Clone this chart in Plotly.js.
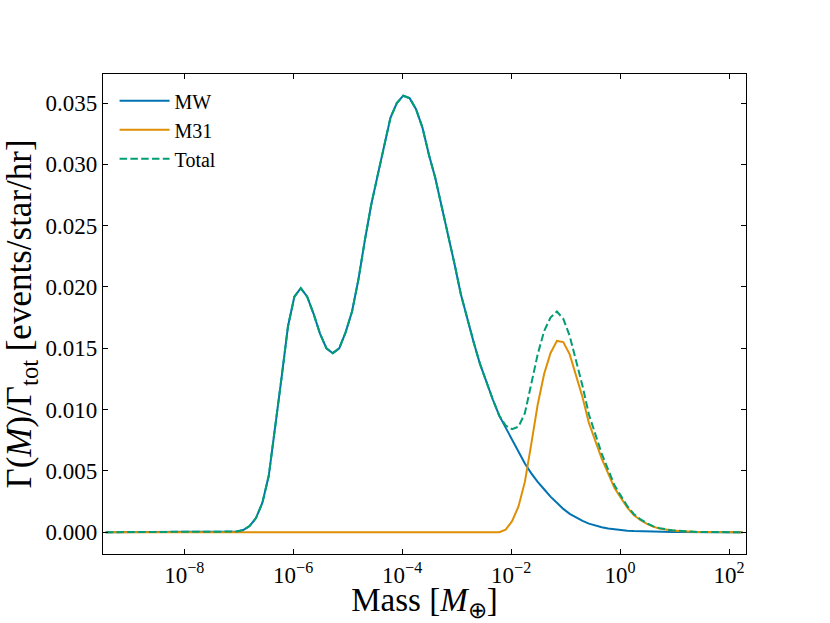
<!DOCTYPE html>
<html>
<head>
<meta charset="utf-8">
<script src="https://cdn.plot.ly/plotly-3.0.1.min.js"></script>
<style>
  html, body { margin: 0; padding: 0; background: #fff; }
  #plot { width: 830px; height: 623px; }
</style>
</head>
<body>
<div id="plot"></div>
<script>
// log10 of mass in Earth masses (sample grid)
var logMass = [
  -9.440, -9.385, -9.268, -9.150, -9.033,
  -8.915, -8.798, -8.680, -8.563, -8.445, -8.328, -8.210, -8.093, -7.975, -7.858,
  -7.740, -7.623, -7.505, -7.388, -7.270, -7.153, -7.035, -6.918, -6.800, -6.683,
  -6.565, -6.448, -6.330, -6.213, -6.095, -5.978, -5.860, -5.743, -5.625, -5.508,
  -5.390, -5.273, -5.155, -5.038, -4.920, -4.803, -4.685, -4.568, -4.450, -4.333,
  -4.215, -4.098, -3.980, -3.863, -3.745, -3.628, -3.510, -3.393, -3.275, -3.158,
  -3.040, -2.923, -2.805, -2.688, -2.570, -2.453, -2.335, -2.218, -2.100, -1.983,
  -1.865, -1.748, -1.630, -1.513, -1.395, -1.278, -1.160, -1.043, -0.925, -0.808,
  -0.690, -0.573, -0.455, -0.338, -0.220, -0.103, 0.015, 0.133, 0.250, 0.368,
  0.485, 0.603, 0.720, 0.838, 0.955, 1.073, 1.190, 1.308, 1.425, 1.543,
  1.660, 1.778, 1.895, 2.013, 2.130, 2.248
];

var mwRate = [
  0, 0, 0, 0, 0,
  0, 0, 0, 0, 0, 0, 0, 0, 0, 0,
  0, 0, 0, 0, 0, 0.00001, 0.00005, 0.00017, 0.0005, 0.00115,
  0.0024, 0.0046, 0.0085, 0.0126, 0.0168, 0.0192, 0.0199, 0.0192, 0.0178, 0.0162,
  0.0150, 0.0146, 0.0150, 0.0163, 0.0180, 0.0206, 0.0238, 0.0267, 0.0291, 0.0314,
  0.0338, 0.0350, 0.0356, 0.0354, 0.0345, 0.0330, 0.0308, 0.0289, 0.0266, 0.0242,
  0.0219, 0.0194, 0.0174, 0.0155, 0.0137, 0.0122, 0.0108, 0.0095, 0.0085, 0.0075,
  0.0065, 0.0056, 0.0048, 0.0041, 0.0035, 0.0029, 0.0024, 0.0019, 0.0015, 0.0012,
  0.00092, 0.0007, 0.00053, 0.0004, 0.0003, 0.00022, 0.00016, 0.00012, 0.00009, 0.00007,
  0.00005, 0.00004, 0.00003, 0.00002, 0.00001, 0.00001, 0, 0, 0, 0,
  0, 0, 0, 0, 0, 0
];

var m31Rate = [
  0, 0, 0, 0, 0,
  0, 0, 0, 0, 0, 0, 0, 0, 0, 0,
  0, 0, 0, 0, 0, 0, 0, 0, 0, 0,
  0, 0, 0, 0, 0, 0, 0, 0, 0, 0,
  0, 0, 0, 0, 0, 0, 0, 0, 0, 0,
  0, 0, 0, 0, 0, 0, 0, 0, 0, 0,
  0, 0, 0, 0, 0, 0, 0, 0, 0.0002, 0.0009,
  0.0021, 0.0041, 0.0072, 0.0104, 0.0129, 0.0146, 0.0156, 0.0155, 0.0145, 0.0128,
  0.0110, 0.0089, 0.0074, 0.0060, 0.0048, 0.0036, 0.0028, 0.0020, 0.0014, 0.0010,
  0.0007, 0.00045, 0.0003, 0.0002, 0.00014, 0.0001, 0.00006, 0.00004, 0.00002, 0.00001,
  0.00001, 0, 0, 0, 0, 0
];

var totalRate = [
  0, 0, 0, 0, 0,
  0, 0, 0, 0, 0, 0, 0, 0, 0, 0,
  0, 0, 0, 0, 0, 0.00001, 0.00005, 0.00017, 0.0005, 0.00115,
  0.0024, 0.0046, 0.0085, 0.0126, 0.0168, 0.0192, 0.0199, 0.0192, 0.0178, 0.0162,
  0.0150, 0.0146, 0.0150, 0.0163, 0.0180, 0.0206, 0.0238, 0.0267, 0.0291, 0.0314,
  0.0338, 0.0350, 0.0356, 0.0354, 0.0345, 0.0330, 0.0308, 0.0289, 0.0266, 0.0242,
  0.0219, 0.0194, 0.0174, 0.0155, 0.0137, 0.0122, 0.0108, 0.0095, 0.0087, 0.0084,
  0.0086, 0.0097, 0.0120, 0.0145, 0.0164, 0.0175, 0.0180, 0.0174, 0.0160, 0.0140,
  0.01192, 0.0096, 0.00793, 0.0064, 0.0051, 0.00382, 0.00296, 0.00212, 0.00149, 0.00107,
  0.00075, 0.00049, 0.00033, 0.00022, 0.00015, 0.00011, 0.00006, 0.00004, 0.00002, 0.00001,
  0.00001, 0, 0, 0, 0, 0
];

var xTickVals = [1e-8, 1e-6, 1e-4, 1e-2, 1, 1e2];
var xTickText = ['10<sup>\u22128</sup>', '10<sup>\u22126</sup>', '10<sup>\u22124</sup>',
                 '10<sup>\u22122</sup>', '10<sup>0</sup>', '10<sup>2</sup>'];

var mass = logMass.map(function (v) { return Math.pow(10, v); });

var mw = {
  x: mass, y: mwRate, name: 'MW', type: 'scatter', mode: 'lines',
  line: {color: '#0173B2', width: 2}
};
var m31 = {
  x: mass, y: m31Rate, name: 'M31', type: 'scatter', mode: 'lines',
  line: {color: '#DE8F05', width: 2}
};
var total = {
  x: mass, y: totalRate, name: 'Total', type: 'scatter', mode: 'lines',
  line: {color: '#029E73', width: 2, dash: '7.5px,3.3px'}
};

var font = 'Liberation Serif, Times New Roman, serif';

var layout = {
  width: 830,
  height: 623,
  margin: {l: 103, r: 84, t: 74, b: 69},
  paper_bgcolor: '#fff',
  plot_bgcolor: '#fff',
  showlegend: true,
  font: {family: font, color: '#000', size: 23},
  legend: {
    x: 0.018, y: 0.985, xanchor: 'left', yanchor: 'top',
    bgcolor: 'rgba(0,0,0,0)',
    font: {family: font, size: 20, color: '#000'},
    itemwidth: 50,
    tracegroupgap: 0
  },
  xaxis: {
    type: 'log',
    range: [-9.49, 2.31],
    tickvals: xTickVals,
    ticktext: xTickText,
    ticks: 'inside',
    ticklen: 5,
    tickwidth: 1,
    tickcolor: '#000',
    showline: true,
    linecolor: '#000',
    linewidth: 1.2,
    mirror: 'ticks',
    showgrid: false,
    zeroline: false,
    tickfont: {family: font, size: 23},
    title: {text: 'Mass [<i>M</i><sub>\u2295</sub>]', font: {family: font, size: 33}, standoff: 13}
  },
  yaxis: {
    range: [-0.00178, 0.03737],
    dtick: 0.005,
    tick0: 0,
    tickformat: '.3f',
    ticks: 'inside',
    ticklen: 5,
    tickwidth: 1,
    tickcolor: '#000',
    showline: true,
    linecolor: '#000',
    linewidth: 1.2,
    mirror: 'ticks',
    showgrid: false,
    zeroline: false,
    tickfont: {family: font, size: 23},
    title: {text: '\u0393(<i>M</i>)/\u0393<sub>tot</sub> [events/star/hr]', font: {family: font, size: 35}, standoff: 4}
  }
};

Plotly.newPlot('plot', [mw, m31, total], layout, {staticPlot: true, displayModeBar: false});
</script>
</body>
</html>
